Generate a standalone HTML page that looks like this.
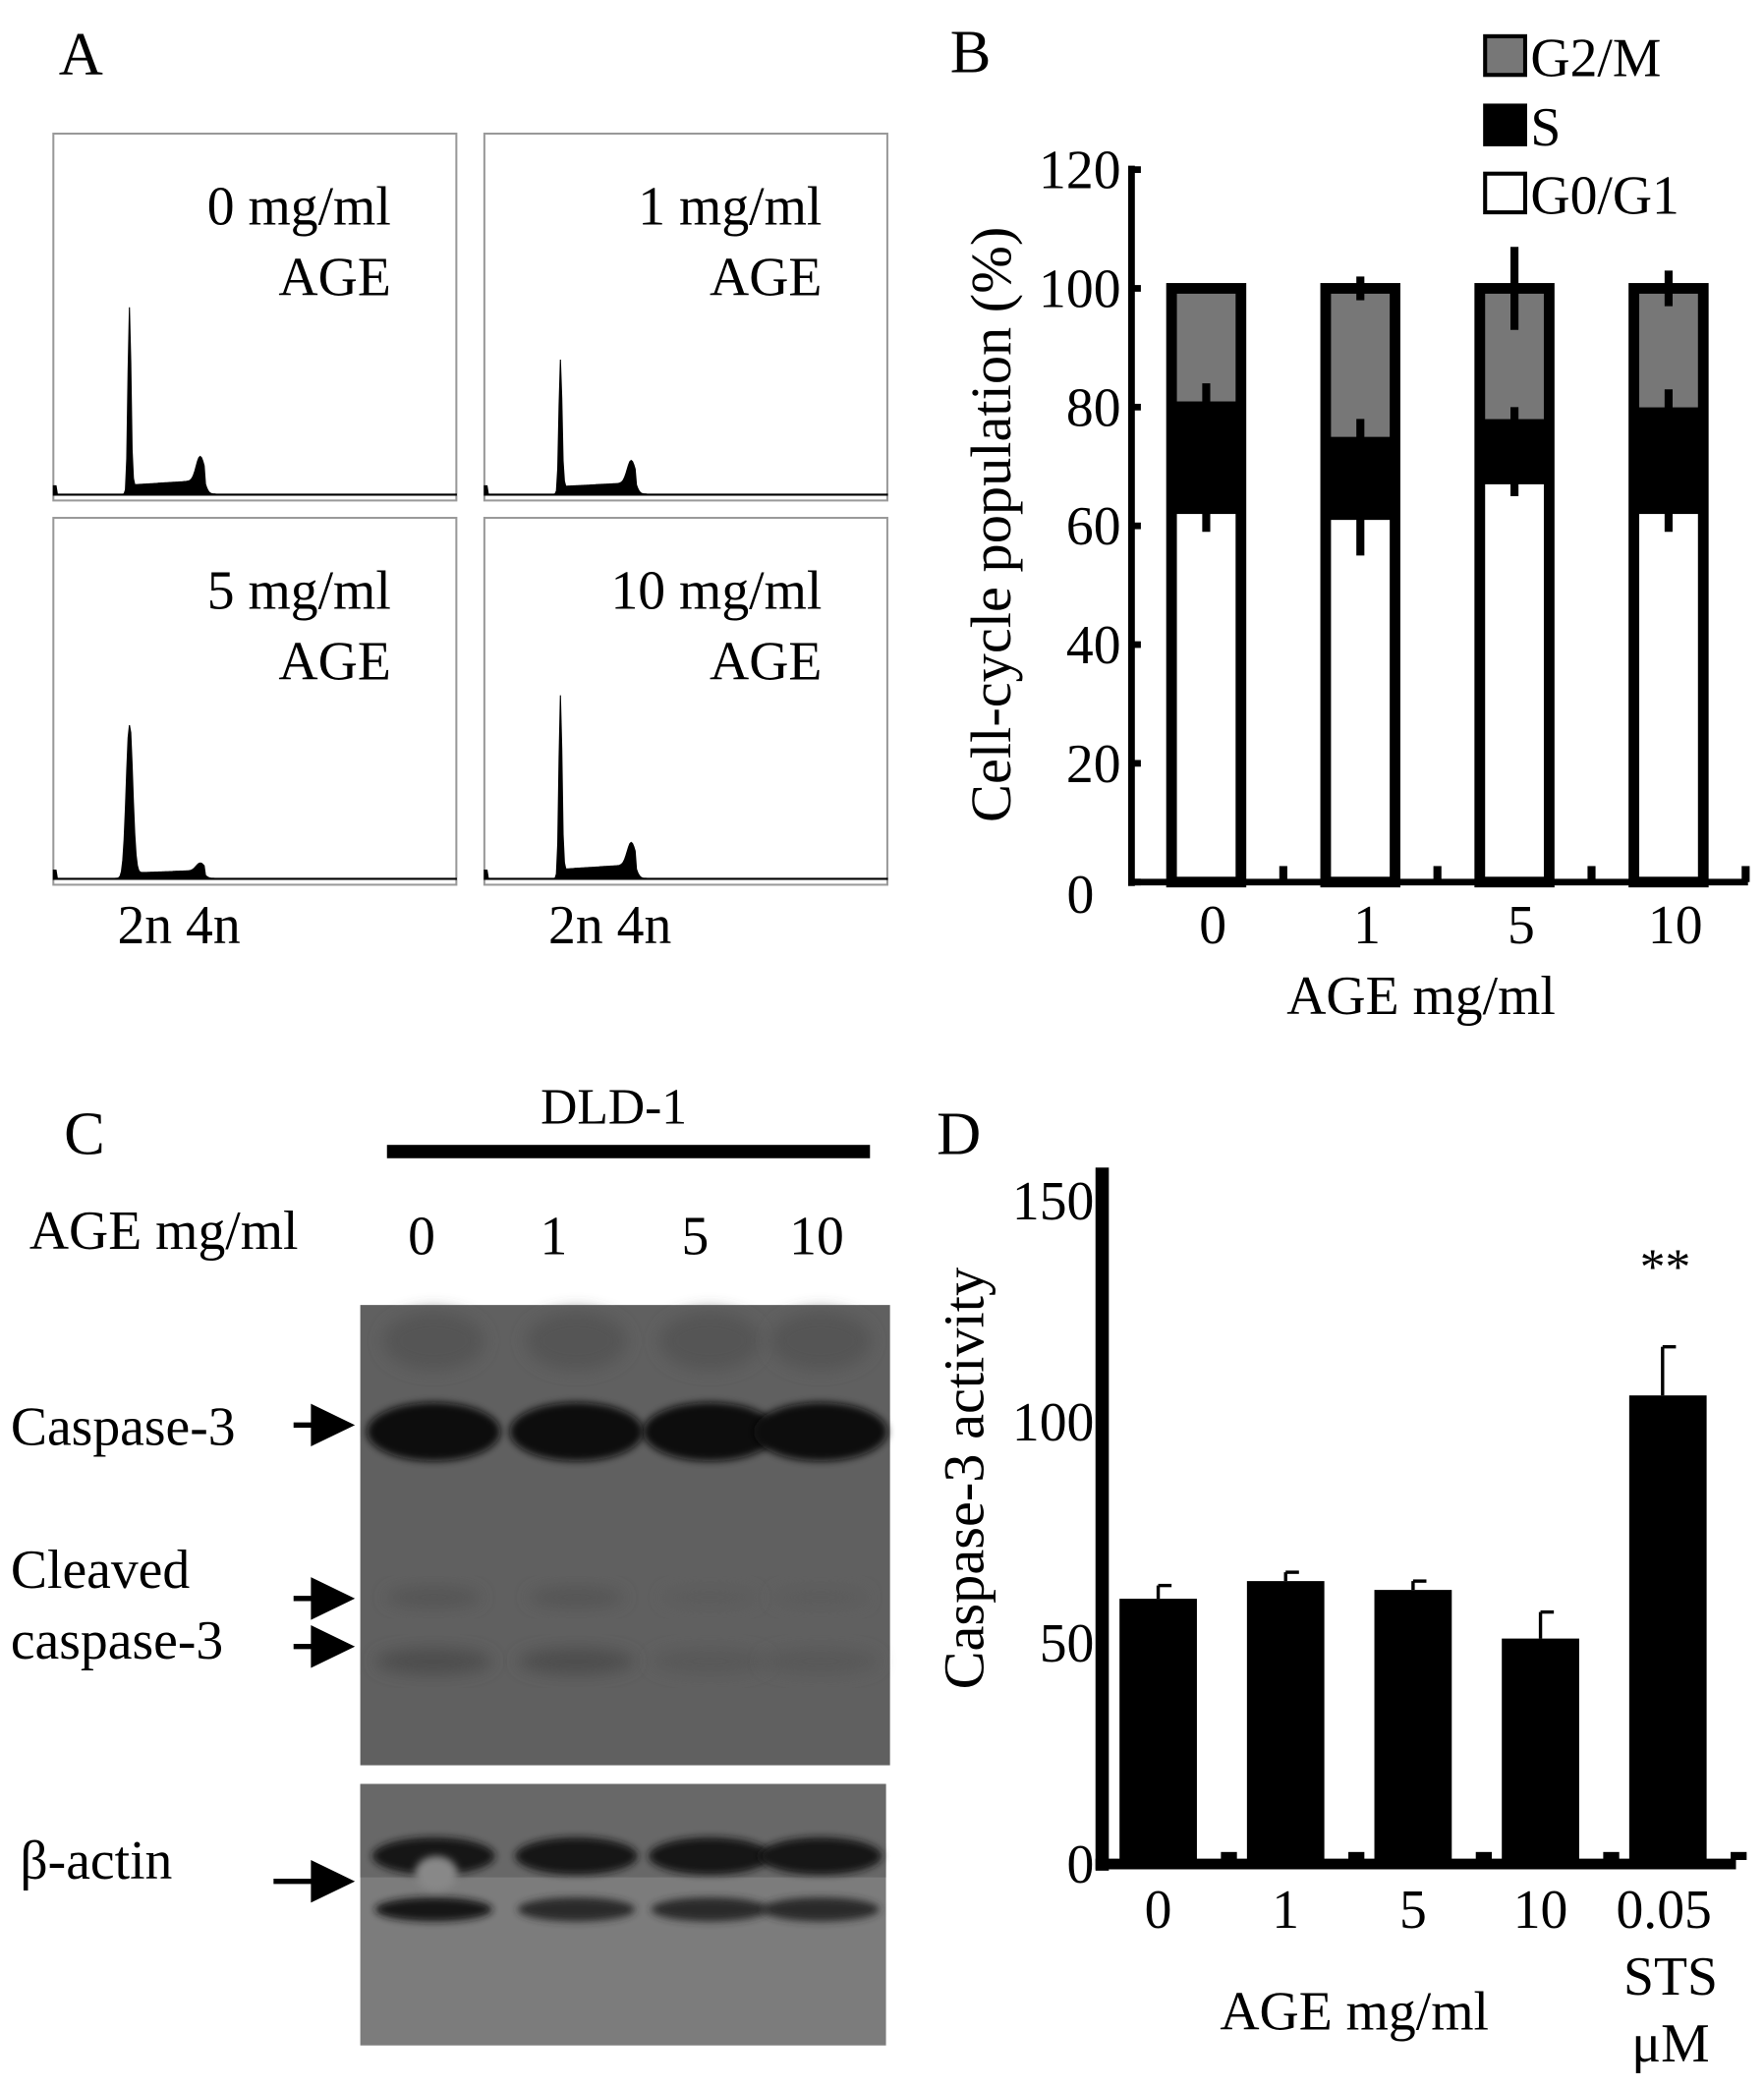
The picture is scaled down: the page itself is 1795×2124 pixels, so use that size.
<!DOCTYPE html>
<html><head><meta charset="utf-8"><style>
html,body{margin:0;padding:0;background:#fff}
svg{display:block}
text{font-family:"Liberation Serif",serif;fill:#000}
</style></head><body>
<svg id="fig" width="1795" height="2124" viewBox="0 0 1322 1564" xmlns="http://www.w3.org/2000/svg">
<defs>
<filter id="blur6" x="-20%" y="-50%" width="140%" height="200%"><feGaussianBlur stdDeviation="6"/></filter>
<filter id="blur3" x="-20%" y="-50%" width="140%" height="200%"><feGaussianBlur stdDeviation="3"/></filter>
</defs>
<g id="panelA"></g>
<g id="panelB"></g>
<g id="panelC"></g>
<g id="panelD"></g>
</svg>
<script>
// ---------- Panel B data ----------
const bCategories = ["0","1","5","10"];
const bG0G1 = [62, 61, 67, 62];
const bS = [19, 14, 11, 18];
const bG2M = [19, 25, 22, 20];
const bErrG1 = [3, 6, 2, 3];
const bErrS = [3, 3, 2, 3];
const bErrTop = [0.5, 2, 7, 3];
const bTicks = [0, 20, 40, 60, 80, 100, 120];
// ---------- Panel D data ----------
const dCategories = ["0","1","5","10","0.05"];
const dValues = [60, 64, 62, 51, 106];
const dErrors = [3, 2, 2, 6, 11];
const dTicks = [0, 50, 100, 150];
// ---------- Panel A histogram data (relative counts per bin, 0..1) ----------
const aLabels = ["0 mg/ml","1 mg/ml","5 mg/ml","10 mg/ml"];
const aPeak2n = [1.0, 0.72, 0.82, 0.98];
const aPeak4n = [0.13, 0.12, 0.04, 0.12];
const aPlateau = [0.06, 0.05, 0.035, 0.06];
const aPeakWidth = [1, 1, 2.2, 1];

const NS = "http://www.w3.org/2000/svg";
function mk(parent, tag, attrs, txt){
  const e = document.createElementNS(NS, tag);
  for (const k in attrs) e.setAttribute(k, attrs[k]);
  if (txt !== undefined) e.textContent = txt;
  parent.appendChild(e);
  return e;
}
const FS = 41;

// ---------------- Panel A ----------------
(function(){
  const g = document.getElementById('panelA');
  let t = mk(g,'text',{x:44,y:56,'font-size':46}, 'A');
  
  
  const boxes = [[40,100],[363,100],[40,388],[363,388]];
  const W = 302, H = 275;
  boxes.forEach((b,i)=>{
    const bx=b[0], by=b[1];
    const box = mk(g,'g',{});
    
    
    mk(box,'rect',{x:bx,y:by,width:W,height:H,fill:'#fff',stroke:'#999','stroke-width':1.5});
    const base = by+H-4;
    const maxH = 140;
    const x2n = bx+57, x4n = bx+110;
    const pw = aPeakWidth[i];
    let d = 'M'+bx+' '+base;
    for (let x=bx; x<=bx+W; x+=1){
      let v = 0.006;
      if (x < bx+3) v = 0.05;
      const dx2 = x - x2n;
      v += aPeak2n[i]*Math.exp(-(dx2*dx2)/(2*pw*pw*1.2));
      if (x > x2n && x < x4n+4) v += aPlateau[i]*(0.8+0.4*(x-x2n)/(x4n-x2n));
      const dx4 = x - x4n;
      v += aPeak4n[i]*Math.exp(-(dx4*dx4)/(2*3*3));
      if (x > x2n-3 && x < x2n+4) v = Math.max(v, aPlateau[i]*1.5);
      d += ' L'+x+' '+(base - v*maxH).toFixed(1);
    }
    d += ' L'+(bx+W)+' '+base+' Z';
    const p = mk(box,'path',{d:d,fill:'#000',stroke:'#000','stroke-width':0.8});
    
    
    const lbl = mk(box,'text',{x:bx+253,y:by+68,'font-size':FS,'text-anchor':'end'}, aLabels[i]);
    
    
    const lbl2 = mk(box,'text',{x:bx+253,y:by+121,'font-size':FS,'text-anchor':'end'}, 'AGE');
    
    
  });
  [88,411].forEach((x,i)=>{
    const t2 = mk(g,'text',{x:x,y:707,'font-size':FS}, '2n 4n');
    
    
  });
})();

// ---------------- Panel B ----------------
(function(){
  const g = document.getElementById('panelB');
  let t = mk(g,'text',{x:712,y:54,'font-size':46}, 'B');
  
  
  const y0 = 661, yTop = 127, vmax = 120;
  const y = v => y0 - (y0-yTop)*v/vmax;
  const xAxis0 = 848, xAxis1 = 1310;
  const slot = 115.5, firstC = 904;
  const xc = i => firstC + i*slot;
  bCategories.forEach((c,i)=>{
    const bw = 52, x = xc(i)-bw/2;
    const bar = mk(g,'g',{});
    
    
    const g1 = bG0G1[i], s = g1+bS[i], top = s+bG2M[i];
    mk(bar,'rect',{x:x,y:y(g1),width:bw,height:y(0)-y(g1),fill:'#fff'});
    mk(bar,'rect',{x:x,y:y(s),width:bw,height:y(g1)-y(s),fill:'#000'});
    mk(bar,'rect',{x:x,y:y(top),width:bw,height:y(s)-y(top),fill:'#777'});
    mk(bar,'rect',{x:x,y:y(top),width:bw,height:y(0)-y(top),fill:'none',stroke:'#000','stroke-width':8});
    const eb = (v,e)=> mk(bar,'line',{x1:xc(i),x2:xc(i),y1:y(v+e),y2:y(v-e),stroke:'#000','stroke-width':6});
    eb(g1,bErrG1[i]); eb(s,bErrS[i]); eb(top,bErrTop[i]);
    mk(g,'rect',{x:xc(i)+slot/2-3,y:y0-12,width:6,height:12,fill:'#000'});
    const lab = mk(g,'text',{x:xc(i)+5,y:707,'font-size':FS,'text-anchor':'middle'}, c);
    
    
  });
  const ya = mk(g,'line',{x1:xAxis0,x2:xAxis0,y1:yTop-3,y2:y0+3,stroke:'#000','stroke-width':5});
  
  
  const xa = mk(g,'line',{x1:xAxis0,x2:xAxis1,y1:y0,y2:y0,stroke:'#000','stroke-width':5});
  
  
  bTicks.forEach(v=>{
    mk(g,'line',{x1:xAxis0,x2:xAxis0+7,y1:y(v),y2:y(v),stroke:'#000','stroke-width':5});
    const tl = mk(g,'text',{x:v===0?820:840,y:y(v)+(v===0?23:14),'font-size':FS,'text-anchor':'end'}, String(v));
    
    
  });
  const yt = mk(g,'text',{x:0,y:0,'font-size':43,'text-anchor':'middle',transform:'translate(757,393) rotate(-90)'}, 'Cell-cycle population (%)');
  
  
  const xt = mk(g,'text',{x:1065,y:760,'font-size':FS,'text-anchor':'middle'}, 'AGE mg/ml');
  
  
  const leg = [['G2/M','#777',25],['S','#000',77],['G0/G1','#fff',128]];
  leg.forEach(l=>{
    const e = mk(g,'g',{});
    
    
    mk(e,'rect',{x:1113,y:l[2]+2,width:30,height:29,fill:l[1],stroke:'#000','stroke-width':3});
    mk(e,'text',{x:1147,y:l[2]+32,'font-size':FS}, l[0]);
  });
})();

// ---------------- Panel C ----------------
(function(){
  const g = document.getElementById('panelC');
  const lab = (x,y,s,txt,name,anchor)=>{
    const t = mk(g,'text',{x:x,y:y,'font-size':s,'text-anchor':anchor||'start'}, txt);
    
    
  };
  lab(48,865,46,'C','panel-c-label');
  lab(460,842,38,'DLD-1','cell-line-label','middle');
  mk(g,'rect',{x:290,y:858,width:362,height:10,fill:'#000'});
  lab(22,936,FS,'AGE mg/ml','dose-header');
  [['0',316],['1',415],['5',521],['10',612]].forEach(l=>lab(l[1],940,FS,l[0],'lane-label','middle'));
  const lanes = [325,432,532,615];
  const b1 = mk(g,'g',{});
  
  
  mk(b1,'rect',{x:270,y:978,width:397,height:345,fill:'#606060'});
  lanes.forEach((x,i)=>{
    mk(b1,'ellipse',{cx:x,cy:1005,rx:38,ry:22,fill:'#555',filter:'url(#blur6)'});
    mk(b1,'ellipse',{cx:x,cy:1073,rx:50,ry:22,fill:'#111',filter:'url(#blur3)'});
    mk(b1,'ellipse',{cx:x,cy:1245,rx:44,ry:10,fill:i<2?'#4e4e4e':'#585858',filter:'url(#blur6)'});
    mk(b1,'ellipse',{cx:x,cy:1197,rx:36,ry:8,fill:i<2?'#555':'#5c5c5c',filter:'url(#blur6)'});
  });
  const b2 = mk(g,'g',{});
  
  
  mk(b2,'rect',{x:270,y:1337,width:394,height:196,fill:'#7c7c7c'});
  mk(b2,'rect',{x:270,y:1337,width:394,height:70,fill:'#686868'});
  lanes.forEach((x,i)=>{
    mk(b2,'ellipse',{cx:x,cy:1391,rx:46,ry:14,fill:'#151515',filter:'url(#blur3)'});
    mk(b2,'ellipse',{cx:x,cy:1431,rx:44,ry:9,fill:i===0?'#151515':'#2a2a2a',filter:'url(#blur3)'});
  });
  mk(b2,'ellipse',{cx:lanes[0]+2,cy:1404,rx:16,ry:13,fill:'#888',filter:'url(#blur3)'});
  lab(8,1083,FS,'Caspase-3','caspase-3-label');
  lab(8,1190,FS,'Cleaved','cleaved-label');
  lab(8,1243,FS,'caspase-3','cleaved-caspase-3-label');
  lab(15,1408,FS,'β-actin','beta-actin-label');
  const arrow=(x0,y,name)=>{
    const a = mk(g,'g',{});
    
    
    mk(a,'line',{x1:x0,x2:245,y1:y,y2:y,stroke:'#000','stroke-width':4});
    mk(a,'polygon',{points:`233,${y-16} 266,${y} 233,${y+16}`,fill:'#000'});
  };
  arrow(220,1068,'caspase-3-arrow');
  arrow(220,1198,'cleaved-arrow-1');
  arrow(220,1234,'cleaved-arrow-2');
  arrow(205,1410,'beta-actin-arrow');
})();

// ---------------- Panel D ----------------
(function(){
  const g = document.getElementById('panelD');
  let t = mk(g,'text',{x:702,y:865,'font-size':46}, 'D');
  
  
  const y0 = 1397, y150 = 900;
  const y = v => y0 - (y0-y150)*v/150;
  const xAxisX = 826;
  const xc = i => 868 + i*95.5;
  const ya = mk(g,'rect',{x:xAxisX-5,y:875,width:10,height:y0-875+5,fill:'#000'});
  
  
  const xa = mk(g,'rect',{x:xAxisX-5,y:y0-4,width:480,height:8,fill:'#000'});
  
  
  dTicks.forEach(v=>{
    const tl = mk(g,'text',{x:820,y:y(v)+14,'font-size':FS,'text-anchor':'end'}, String(v));
    
    
  });
  dCategories.forEach((c,i)=>{
    const bw = 58;
    const bar = mk(g,'rect',{x:xc(i)-bw/2,y:y(dValues[i]),width:bw,height:y0-y(dValues[i]),fill:'#000'});
    
    
    const ex = xc(i)+ (i===4?-4:0);
    const e = mk(g,'g',{});
    
    
    mk(e,'line',{x1:ex,x2:ex,y1:y(dValues[i]),y2:y(dValues[i]+dErrors[i]),stroke:'#000','stroke-width':2.5});
    mk(e,'line',{x1:ex,x2:ex+10,y1:y(dValues[i]+dErrors[i]),y2:y(dValues[i]+dErrors[i]),stroke:'#000','stroke-width':2.5});
    mk(g,'rect',{x:xc(i)+47,y:y0-9,width:12,height:6,fill:'#000'});
    const lab = mk(g,'text',{x:xc(i)+(i===4?-3:0),y:1445,'font-size':FS,'text-anchor':'middle'}, c);
    
    
  });
  const st = mk(g,'text',{x:1252,y:1495,'font-size':FS,'text-anchor':'middle'}, 'STS');
  
  
  const mu = mk(g,'text',{x:1252,y:1545,'font-size':FS,'text-anchor':'middle'}, 'μM');
  
  
  const sig = mk(g,'text',{x:1248,y:962,'font-size':38,'text-anchor':'middle'}, '**');
  
  
  const yt = mk(g,'text',{x:0,y:0,'font-size':43,'text-anchor':'middle',transform:'translate(737,1108) rotate(-90)'}, 'Caspase-3 activity');
  
  
  const xt = mk(g,'text',{x:1015,y:1521,'font-size':FS,'text-anchor':'middle'}, 'AGE mg/ml');
  
  
})();
</script>
</body></html>
